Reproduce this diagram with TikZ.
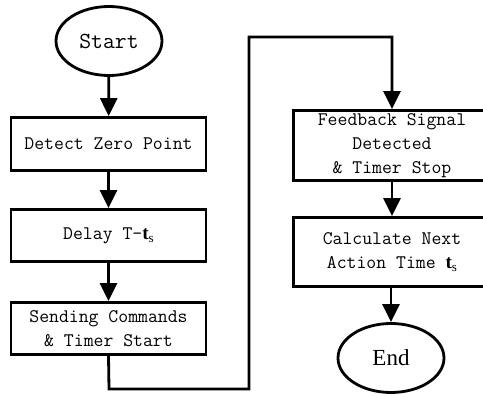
\documentclass[tikz,border=0pt]{standalone}
\usepackage{fontspec}
\setmonofont{Latin Modern Mono}
\newfontfamily\timesfont{Liberation Serif}
\usetikzlibrary{arrows.meta,shapes.geometric}
\newcommand{\tsub}{{\timesfont\bfseries t}\raisebox{-0.35ex}{\timesfont\fontsize{13}{13}\selectfont s}}
\tikzset{
  flow/.style={line width=2.8pt},
  arr/.style={flow, -{Triangle[length=18pt,width=17pt]}},
  proc/.style={draw, line width=2.8pt, rectangle, minimum width=195pt,
    inner sep=0pt, align=center, font=\ttfamily\fontsize{19.2}{24}\selectfont},
  term/.style={draw, line width=2.8pt, ellipse, inner sep=0pt,
    minimum width=106pt, minimum height=69pt},
}
\begin{document}
\begin{tikzpicture}[x=1pt,y=-1pt]
  \useasboundingbox (0,0) rectangle (483,396);
  \clip (0,0) rectangle (483,396);
  % left column
  \node[term, font=\ttfamily\fontsize{23}{23}\selectfont] (start) at (109,41) {Start};
  \node[proc, minimum height=53pt] (detect) at (108.5,144) {Detect Zero Point};
  \node[proc, minimum height=52pt] (delay) at (108.5,235.5) {Delay T-\tsub};
  \node[proc, minimum height=52pt] (send) at (108.5,328.5) {Sending Commands\\\& Timer Start};
  % right column, running past the right edge
  \node[proc, minimum width=197pt, minimum height=70pt] (feedback) at (392,145.5) {Feedback Signal\\Detected\\\& Timer Stop};
  \node[proc, minimum width=197pt, minimum height=69pt] (calc) at (392,252) {Calculate Next\\Action Time \tsub};
  \node[term, font=\timesfont\fontsize{23}{23}\selectfont] (end) at (391,358) {End};
  % connectors
  \draw[arr] (start) -- (detect);
  \draw[arr] (detect) -- (delay);
  \draw[arr] (delay) -- (send);
  \coordinate (c1) at (109,389);
  \coordinate (c2) at (249,389);
  \coordinate (c3) at (249,37);
  \coordinate (c4) at (392,37);
  \draw[arr] (send.south) -- (c1) -- (c2) -- (c3) -- (c4) -- (feedback.north);
  \draw[arr] (feedback) -- (calc);
  \draw[arr] (calc.south -| end.north) -- (end);
\end{tikzpicture}
\end{document}
